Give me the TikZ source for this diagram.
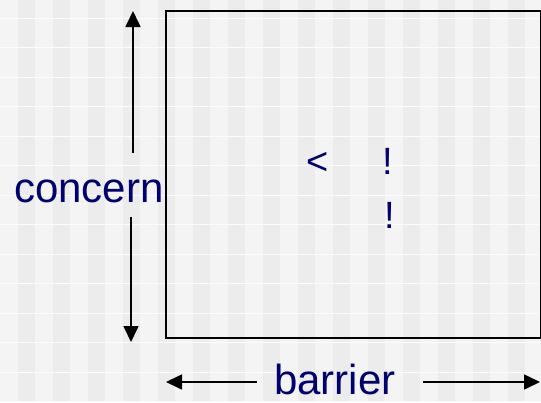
\documentclass[tikz,border=0pt]{standalone}
\usepackage{fontspec}
\setmainfont{Liberation Sans}
\usetikzlibrary{arrows.meta}
\definecolor{bglight}{HTML}{F4F4F4}
\definecolor{bgdark}{HTML}{ECECEC}
\definecolor{bgline}{HTML}{FCFCFC}
\definecolor{txtblue}{HTML}{00006E}
\begin{document}
\begin{tikzpicture}[x=1pt,y=-1pt,
  lbl/.style={inner sep=0pt,anchor=base west,text=txtblue,font=\fontsize{42}{42}\selectfont},
  sym/.style={inner sep=0pt,anchor=base west,text=txtblue,font=\fontsize{38}{38}\selectfont},
  dimarrow/.style={draw=black,line width=1.6pt,-{Triangle[width=15pt,length=16pt]}},
  frame/.style={draw=black,line width=1.8pt}]
\useasboundingbox (0,0) rectangle (541,402);
% background
\fill[bglight] (0,0) rectangle (541,402);
\foreach \i in {0,...,15} {
  \fill[bgdark] ({18+35*\i},0) rectangle ({35+35*\i},402);
}
\foreach \j in {0,...,13} {
  \draw[bgline,line width=1pt] (0,{18+29.5*\j}) -- (541,{18+29.5*\j});
}
% frame
\node[frame,inner sep=0pt,minimum width=375pt,minimum height=327pt,anchor=north west] (box) at (165,10) {};
% labels
\node[lbl] (concern) at (14,202) {concern};
\node[lbl] (barrier) at (274,394) {barrier};
\node[sym] (lt) at (306,174) {<};
\node[sym] (ex1) at (382,174) {!};
\node[sym] (ex2) at (384,228) {!};
% arrow endpoints
\coordinate (upS) at (133,153);
\coordinate (upE) at (133,11);
\coordinate (dnS) at (131,217);
\coordinate (dnE) at (131,342);
\coordinate (lS) at (257,382);
\coordinate (lE) at (166,382);
\coordinate (rS) at (423,382);
\coordinate (rE) at (540,382);
\draw[dimarrow] (upS) -- (upE);
\draw[dimarrow] (dnS) -- (dnE);
\draw[dimarrow] (lS) -- (lE);
\draw[dimarrow] (rS) -- (rE);
\end{tikzpicture}
\end{document}
